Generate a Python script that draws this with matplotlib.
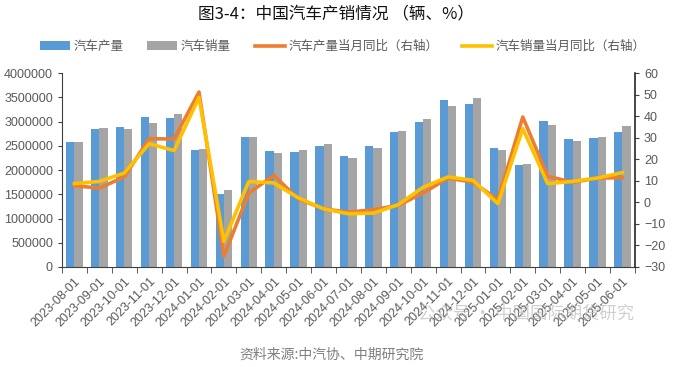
import matplotlib
matplotlib.use("Agg")
import matplotlib.pyplot as plt
import numpy as np

plt.rcParams['font.family'] = ['Liberation Sans', 'Noto Sans CJK SC', 'DejaVu Sans']
plt.rcParams['axes.unicode_minus'] = False

months = ["2023-08-01", "2023-09-01", "2023-10-01", "2023-11-01", "2023-12-01",
          "2024-01-01", "2024-02-01", "2024-03-01", "2024-04-01", "2024-05-01",
          "2024-06-01", "2024-07-01", "2024-08-01", "2024-09-01", "2024-10-01",
          "2024-11-01", "2024-12-01", "2025-01-01", "2025-02-01", "2025-03-01",
          "2025-04-01", "2025-05-01", "2025-06-01"]

production = [2577000, 2850000, 2893000, 3090000, 3080000, 2405000, 1500000, 2687000,
              2400000, 2380000, 2500000, 2290000, 2490000, 2790000, 2990000, 3440000,
              3370000, 2450000, 2110000, 3010000, 2630000, 2650000, 2794000]
sales = [2577000, 2866000, 2850000, 2976000, 3160000, 2430000, 1590000, 2687000,
         2360000, 2420000, 2540000, 2250000, 2450000, 2810000, 3050000, 3330000,
         3490000, 2420000, 2130000, 2920000, 2590000, 2690000, 2904000]
production_yoy = [7.7, 6.6, 11.8, 29.5, 29.4, 51.2, -25.0, 4.3, 12.5, 1.5, -3.0,
                  -4.6, -3.4, -1.4, 4.3, 11.3, 9.3, 1.2, 39.6, 12.1, 9.3, 11.3, 11.4]
sales_yoy = [8.7, 9.7, 13.6, 27.2, 24.0, 48.7, -18.1, 9.7, 9.0, 2.0, -3.0,
             -5.3, -5.0, -1.1, 7.0, 11.8, 10.2, -0.6, 34.2, 8.7, 9.7, 11.3, 13.8]

legend_labels = ["汽车产量", "汽车销量", "汽车产量当月同比（右轴）", "汽车销量当月同比（右轴）"]

c_blue = "#5B9BD5"
c_gray = "#A5A5A5"
c_orange = "#ED7D31"
c_yellow = "#FFC000"
tcol = "#595959"

fig = plt.figure(figsize=(6.79, 3.67), dpi=100)
ax = fig.add_axes([0.0913, 0.2725, 0.8437, 0.5285])
ax2 = ax.twinx()

x = np.arange(len(months))
w = 0.33
b1 = ax.bar(x - w / 2, production, w, color=c_blue, label=legend_labels[0], zorder=2)
b2 = ax.bar(x + w / 2, sales, w, color=c_gray, label=legend_labels[1], zorder=2)
l1, = ax2.plot(x, production_yoy, color=c_orange, lw=2.6, label=legend_labels[2], zorder=3)
l2, = ax2.plot(x, sales_yoy, color=c_yellow, lw=2.6, label=legend_labels[3], zorder=4)

ax.set_xlim(-0.5, len(months) - 0.5)
ax.set_ylim(0, 4000000)
ax.set_yticks(np.arange(0, 4000001, 500000))
ax.set_yticklabels([str(v) for v in range(0, 4000001, 500000)])
ax2.set_ylim(-30, 60)
ax2.set_yticks(np.arange(-30, 61, 10))
ax2.set_yticklabels([("−" + str(-v)) if v < 0 else str(v) for v in range(-30, 61, 10)])

ax.set_xticks(x)
ax.set_xticklabels(months, rotation=45, ha='right', rotation_mode='anchor', fontsize=9, color=tcol)
ax.set_xticks(np.arange(-0.5, len(months)), minor=True)
ax.tick_params(axis='x', which='major', length=0, pad=6)
ax.tick_params(axis='x', which='minor', length=4, color='#404040', direction='out')
ax.tick_params(axis='y', labelsize=9, labelcolor=tcol, length=3, color='#404040')
ax2.tick_params(axis='y', labelsize=9, labelcolor=tcol, length=3, color='#404040')

for a in (ax, ax2):
    a.spines['top'].set_visible(False)
ax.spines['right'].set_visible(False)
ax2.spines['left'].set_visible(False)
ax2.spines['bottom'].set_visible(False)
ax.spines['left'].set_color('#404040')
ax.spines['bottom'].set_color('#404040')
ax2.spines['right'].set_color('#262626')
ax2.spines['right'].set_linewidth(1.2)

fig.text(0.495, 0.963, "图3-4：中国汽车产销情况 （辆、%）", ha='center', va='center',
         fontsize=12, color='#111111', family=['Noto Sans CJK SC', 'DejaVu Sans'])

fig.legend(handles=[b1, b2, l1, l2], labels=legend_labels, loc='center', ncol=4,
           bbox_to_anchor=(0.505, 0.873), frameon=False, handlelength=2.4,
           handletextpad=0.3, columnspacing=1.9, labelcolor=tcol,
           prop={'family': ['Noto Sans CJK SC', 'DejaVu Sans'], 'size': 9})

fig.text(0.4885, 0.033, "资料来源:中汽协、中期研究院", ha='center', va='center',
         fontsize=10, color='#7f7f7f', family=['Noto Sans CJK SC', 'DejaVu Sans'])

fig.text(0.775, 0.147, "公众号 · 中国国际期货研究", ha='center', va='center',
         fontsize=12.5, color='#b0b0b0', alpha=0.6, family=['Noto Sans CJK SC', 'DejaVu Sans'])

fig.savefig("out.png", dpi=100)
